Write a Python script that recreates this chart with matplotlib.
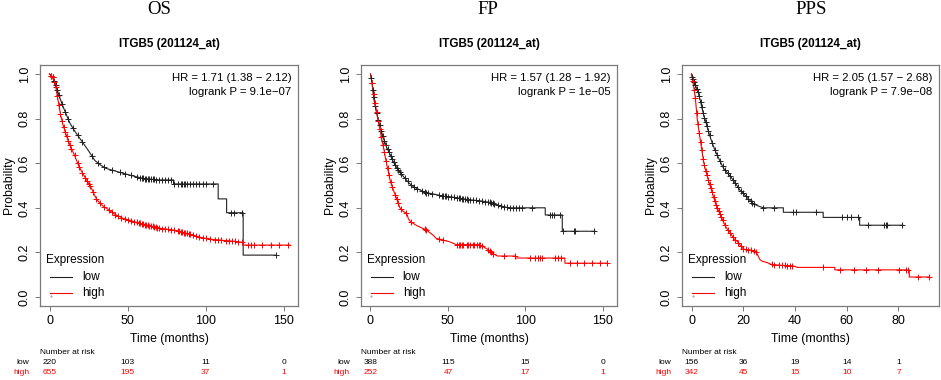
import numpy as np
import matplotlib
matplotlib.use("Agg")
import matplotlib.pyplot as plt
import matplotlib.transforms as mtransforms

plt.rcParams['font.family'] = ['Liberation Sans', 'DejaVu Sans']

# ---- data ----
panel_titles = ["OS", "FP", "PPS"]
gene_title = "ITGB5 (201124_at)"
hr_text = ["HR = 1.71 (1.38 \u2212 2.12)", "HR = 1.57 (1.28 \u2212 1.92)", "HR = 2.05 (1.57 \u2212 2.68)"]
p_text = ["logrank P = 9.1e\u221207", "logrank P = 1e\u221205", "logrank P = 7.9e\u221208"]

# OS
os_low_t = [0, 2, 4, 6, 8, 10, 13, 16, 20, 25, 29, 33, 36, 42, 47, 55, 60, 70, 79.4, 79.4,
            108, 108, 113.4, 113.4, 124, 124, 145]
os_low_s = [1.0, 0.985, 0.95, 0.905, 0.865, 0.83, 0.78, 0.745, 0.705, 0.655, 0.612, 0.59, 0.577,
            0.565, 0.555, 0.54, 0.532, 0.525, 0.525, 0.507, 0.507, 0.44, 0.44, 0.378, 0.378, 0.188, 0.188]
os_high_t = [0, 2, 4, 5.5, 7, 8.5, 10, 12, 14, 16, 18, 20, 22, 24, 27, 30, 33, 37, 42, 47, 52, 58,
             65, 71, 80, 88, 95, 102, 110, 118, 124, 124, 154]
os_high_s = [1.0, 0.985, 0.94, 0.88, 0.82, 0.775, 0.74, 0.70, 0.665, 0.635, 0.60, 0.57, 0.545, 0.52,
             0.485, 0.44, 0.415, 0.395, 0.37, 0.353, 0.343, 0.33, 0.318, 0.308, 0.30, 0.285, 0.27,
             0.26, 0.255, 0.25, 0.245, 0.233, 0.233]
os_low_cens = [1, 2, 3, 4, 5, 6, 8, 10, 12, 15, 18, 21, 27, 31, 35, 40, 45, 48, 52, 56, 58, 59, 60,
               61, 62, 63, 64, 65, 66, 67, 68, 70, 72, 74, 76, 78, 80, 82, 84, 85, 86, 87, 88, 90,
               92, 94, 96, 98, 100, 105, 116, 118, 123.5, 145]
os_high_cens = [1, 2, 3, 4, 5, 6, 7, 8, 9, 10, 11, 12, 13, 14, 16, 18, 19, 21, 23, 24, 25, 26, 28,
                30, 32, 35, 38, 40, 42, 44, 46, 48, 50, 52, 54, 56, 57, 58, 59, 60, 61, 62, 63, 64,
                65, 66, 67, 68, 69, 70, 72, 74, 76, 78, 80, 82, 83, 84, 85, 86, 87, 88, 89, 90, 92,
                94, 96, 98, 100, 103, 106, 108, 110, 113, 115, 117, 119, 121, 123, 127, 129, 131,
                136, 142, 147, 153]

# FP
fp_low_t = [0, 1, 2.1, 3.5, 5.3, 7, 8.5, 10.5, 12.8, 14.5, 16, 18.5, 21.3, 25, 28, 32, 36, 42, 47,
            51, 56, 60, 64, 70, 76.6, 80, 83, 86, 89.3, 100, 112.8, 112.8, 123.8, 123.8, 145]
fp_low_s = [1.0, 0.96, 0.89, 0.84, 0.786, 0.745, 0.71, 0.67, 0.637, 0.61, 0.59, 0.565, 0.54, 0.51,
            0.493, 0.48, 0.468, 0.46, 0.452, 0.45, 0.445, 0.44, 0.436, 0.432, 0.425, 0.418, 0.41,
            0.405, 0.40, 0.40, 0.40, 0.368, 0.368, 0.295, 0.295]
fp_high_t = [0, 1, 2.1, 3.2, 4.3, 5.4, 6.4, 7.5, 8.5, 9.5, 10.6, 11.7, 12.8, 14.5, 16, 17.5, 19, 21,
             23.4, 24.5, 26, 30, 36.2, 40, 42.5, 47, 51, 55.3, 70.2, 73, 76.6, 79, 82, 93.6, 93.6,
             125.5, 125.5, 153]
fp_high_s = [1.0, 0.96, 0.906, 0.86, 0.816, 0.775, 0.74, 0.70, 0.667, 0.63, 0.59, 0.555, 0.52, 0.485,
             0.457, 0.43, 0.40, 0.385, 0.375, 0.35, 0.337, 0.32, 0.30, 0.28, 0.263, 0.255, 0.248,
             0.235, 0.235, 0.225, 0.21, 0.195, 0.184, 0.184, 0.175, 0.175, 0.152, 0.152]
fp_low_cens = [0.5, 1, 1.5, 2, 3, 4, 5, 6, 7, 8, 9, 10, 11, 12, 13, 14, 15, 16, 17, 18, 19, 20, 22,
               24, 26, 28, 30, 33, 35, 36, 37, 40, 44, 46, 47, 48, 49, 50, 52, 54, 56, 57, 58, 59,
               60, 61, 62, 63, 64, 66, 68, 70, 72, 74, 76, 77, 78, 79, 80, 82, 84, 86, 88, 90, 92,
               94, 96, 98, 104, 116, 117, 118.5, 122.6, 124.5, 131.3, 132.3, 144.5]
fp_high_cens = [1, 2, 3, 4, 5, 6, 7, 8, 9, 10, 11, 12, 13, 14, 16, 17, 18, 20, 23, 26, 35, 36, 44,
                47, 56, 57, 58, 59, 60, 62, 63, 64, 66, 67, 69, 70, 71, 72, 76, 77, 78, 79, 86,
                93, 103, 106, 108, 109.5, 110.8, 118.8, 121, 123, 128.7, 133, 138, 143, 148, 152.5]

# PPS
pps_low_t = [0, 0.5, 1.5, 2.8, 3.8, 4.7, 5.4, 6, 7, 8, 9, 9.9, 11, 12.4, 14, 15.6, 17, 18.8, 20,
             22.7, 24, 26.5, 27.8, 35.5, 35.5, 50.9, 50.9, 65, 65, 81.7]
pps_low_s = [1.0, 0.98, 0.95, 0.91, 0.86, 0.815, 0.79, 0.765, 0.725, 0.69, 0.66, 0.637, 0.61, 0.577,
             0.555, 0.532, 0.51, 0.478, 0.465, 0.432, 0.417, 0.405, 0.40, 0.40, 0.38, 0.38, 0.357,
             0.357, 0.322, 0.322]
pps_high_t = [0, 0.5, 1, 1.5, 2.2, 2.8, 3.5, 4.1, 4.7, 5.4, 6, 7, 8, 9, 9.9, 10.5, 11.5, 12.4, 13.5,
              15, 16.3, 17.6, 19, 20.1, 24.6, 25.3, 26.5, 27.5, 29.1, 31, 35, 39.3, 41, 55.4, 55.4,
              84.2, 84.2, 92]
pps_high_s = [1.0, 0.97, 0.93, 0.89, 0.80, 0.75, 0.695, 0.65, 0.605, 0.57, 0.545, 0.505, 0.47, 0.43,
              0.40, 0.385, 0.36, 0.335, 0.31, 0.288, 0.262, 0.25, 0.23, 0.215, 0.207, 0.195, 0.167,
              0.16, 0.155, 0.146, 0.142, 0.14, 0.133, 0.133, 0.122, 0.122, 0.09, 0.09]
pps_low_cens = [0.3, 0.6, 1, 1.5, 2, 2.5, 3, 3.5, 4, 4.5, 5, 5.5, 6, 6.5, 7, 8, 9, 10, 11, 12, 13,
                14, 15, 16, 17, 18, 19, 20, 21, 22, 23, 23.5, 24, 27.8, 31.7, 39.3, 40.4, 48.3, 58,
                60, 61.8, 64.5, 68.2, 74.6, 75, 75.4, 81.5]
pps_high_cens = [0.5, 1, 1.5, 2, 2.5, 3, 3.5, 4, 4.5, 5, 5.5, 6, 6.5, 7, 7.5, 8, 8.5, 9, 9.5, 10,
                 10.5, 11, 11.5, 12, 13, 14, 15, 16, 17, 18, 19, 20, 21, 22, 23, 24, 25, 31, 32, 34,
                 35, 36, 37, 38, 39, 50.9, 57.3, 63, 67.6, 72, 80.4, 83, 83.6, 87.4, 92]

# number at risk
risk_times = [[0, 50, 100, 150], [0, 50, 100, 150], [0, 20, 40, 60, 80]]
risk_low = [[220, 103, 11, 0], [388, 115, 15, 0], [156, 36, 19, 14, 1]]
risk_high = [[655, 195, 37, 1], [252, 47, 17, 1], [342, 45, 15, 10, 7]]
x_ticks = [[0, 50, 100, 150], [0, 50, 100, 150], [0, 20, 40, 60, 80]]
y_ticks = [0.0, 0.2, 0.4, 0.6, 0.8, 1.0]

curves = [
    (os_low_t, os_low_s, os_low_cens, os_high_t, os_high_s, os_high_cens),
    (fp_low_t, fp_low_s, fp_low_cens, fp_high_t, fp_high_s, fp_high_cens),
    (pps_low_t, pps_low_s, pps_low_cens, pps_high_t, pps_high_s, pps_high_cens),
]
x_max = [153, 153, 92]

# ---- layout (pixels) ----
W, H = 941, 380
fig = plt.figure(figsize=(W / 100, H / 100), dpi=100)
boxes = [(40, 298), (361, 617), (682, 939)]
top_px, bot_px = 65, 306
title_x = [159, 488, 811]

LOW_C = '#222222'
HIGH_C = '#ff0000'
FRAME_C = '#7a7a7a'

for i in range(3):
    l, r = boxes[i]
    ax = fig.add_axes([l / W, 1 - bot_px / H, (r - l) / W, (bot_px - top_px) / H])
    lt, ls, lc, ht, hs, hc = curves[i]

    ax.plot(lt, ls, color=LOW_C, lw=0.8)
    ax.plot(ht, hs, color=HIGH_C, lw=0.8)
    ax.plot(lc, np.interp(lc, lt, ls), ls='none', marker='+', ms=5, mew=0.7, color=LOW_C)
    ax.plot(hc, np.interp(hc, ht, hs), ls='none', marker='+', ms=5, mew=0.7, color=HIGH_C)

    pad = 0.04 * x_max[i]
    ax.set_xlim(-pad, x_max[i] + pad)
    ax.set_ylim(-0.04, 1.04)
    ax.set_xticks(x_ticks[i])
    ax.set_yticks(y_ticks)
    ax.set_yticklabels([f"{v:.1f}" for v in y_ticks], rotation=90, va='center')
    ax.tick_params(direction='out', length=3.6, width=0.7, color=FRAME_C, labelsize=9, pad=3)
    for sp in ax.spines.values():
        sp.set_color(FRAME_C)
        sp.set_linewidth(0.9)

    ax.set_xlabel("Time (months)", fontsize=8.8, labelpad=4)
    ax.set_ylabel("Probability", fontsize=8.8, labelpad=3)
    ax.set_title(gene_title, fontsize=8.4, fontweight='bold', pad=13)

    ax.text(0.975, 0.945, hr_text[i], transform=ax.transAxes, ha='right', va='center', fontsize=8.2)
    ax.text(0.975, 0.89, p_text[i], transform=ax.transAxes, ha='right', va='center', fontsize=8.2)

    # legend drawn R-style
    ax.text(0.023, 0.19, "Expression", transform=ax.transAxes, ha='left', va='center', fontsize=8.5)
    ax.plot([0.04, 0.125], [0.12, 0.12], transform=ax.transAxes, color=LOW_C, lw=0.8)
    ax.plot([0.04, 0.125], [0.054, 0.054], transform=ax.transAxes, color=HIGH_C, lw=0.8)
    ax.text(0.163, 0.12, "low", transform=ax.transAxes, ha='left', va='center', fontsize=8.5)
    ax.text(0.163, 0.054, "high", transform=ax.transAxes, ha='left', va='center', fontsize=8.5)
    ax.plot([0.041], [0.04], transform=ax.transAxes, marker='.', ms=1, color='#999999')

    # number at risk table
    tr = mtransforms.blended_transform_factory(ax.transData, fig.transFigure)
    fig.text(l / W, 1 - 353 / H, "Number at risk", ha='left', va='center', fontsize=6)
    fig.text((l - 11) / W, 1 - 363 / H, "low", ha='right', va='center', fontsize=6)
    fig.text((l - 11) / W, 1 - 373 / H, "high", ha='right', va='center', fontsize=6, color=HIGH_C)
    for t, n in zip(risk_times[i], risk_low[i]):
        ax.text(t, 1 - 363 / H, str(n), transform=tr, ha='center', va='center', fontsize=6)
    for t, n in zip(risk_times[i], risk_high[i]):
        ax.text(t, 1 - 373 / H, str(n), transform=tr, ha='center', va='center', fontsize=6,
                color=HIGH_C)

    fig.text(title_x[i] / W, 1 - 10 / H, panel_titles[i], ha='center', va='center',
             fontsize=13.5, family=['Liberation Serif', 'DejaVu Serif'])

fig.savefig("out.png", dpi=100)
